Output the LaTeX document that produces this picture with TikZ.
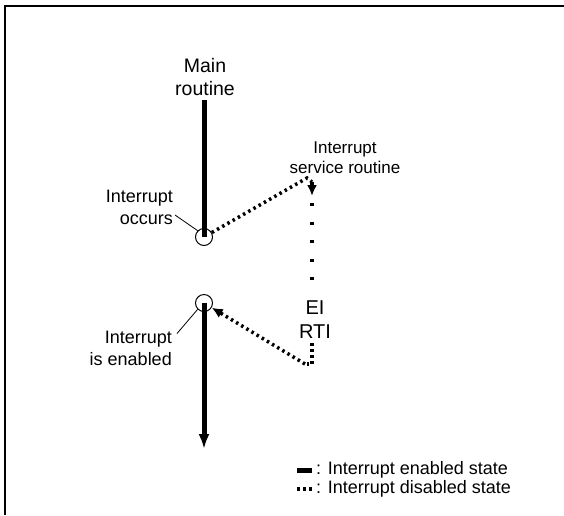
\documentclass[tikz,border=0pt]{standalone}
\usepackage{fontspec}
\setmainfont{Liberation Sans}
\usetikzlibrary{arrows.meta}
\tikzset{>=latex}

\begin{document}
\begin{tikzpicture}[x=1pt, y=-1pt,
    lbl/.style={inner sep=1pt, font=\fontsize{18}{22}\selectfont},
    enab/.style={line width=5pt},
    disab/.style={line width=3.5pt, dash pattern=on 2.5pt off 3.5pt},
    sparse/.style={line width=3.5pt, dash pattern=on 3pt off 15.5pt},
    circ/.style={circle, draw, line width=1pt, minimum size=17pt, inner sep=0pt},
    leader/.style={line width=0.8pt}]
    \useasboundingbox (0, 0) rectangle (564, 515);
    % frame
    \draw[line width=2.5pt] (5, 515) -- (5, 6) -- (564, 6);
    % main routine
    \node[lbl, font=\fontsize{19.5}{23}\selectfont, align=center] (main) at (205, 77) {Main\\routine};
    \node[circ] (occ) at (204, 237) {};
    \node[circ] (ena) at (204, 303) {};
    \coordinate (mtop) at (204, 100);
    \coordinate (mend) at (204, 449);
    \draw[enab] (mtop) -- (occ.center);
    \draw[enab, -{Latex[length=15pt, width=11pt]}] (ena.center) -- (mend);
    % service routine
    \node[lbl, font=\fontsize{17}{20}\selectfont, align=center] (isr) at (345, 158) {Interrupt\\service routine};
    \coordinate (isra) at (307, 178);
    \coordinate (isrb) at (312, 196);
    \coordinate (isrc) at (312, 203);
    \coordinate (isrd) at (312, 290);
    \coordinate (isre) at (312, 343);
    \coordinate (isrf) at (312, 364);
    \draw[disab] (occ) -- (isra) -- (312, 182);
    \draw[disab, -{Latex[length=11pt, width=10pt]}] (312, 182) -- (isrb);
    \draw[sparse] (isrc) -- (isrd);
    \node[lbl, font=\fontsize{20}{24}\selectfont, align=center] (ei) at (315, 320) {EI\\RTI};
    \draw[disab] (isre) -- (isrf) -- (305, 364);
    \draw[disab, -{Latex[length=11pt, width=10pt]}] (305, 364) -- (ena);
    % labels
    \node[lbl, align=right, anchor=east] (occlbl) at (174, 207) {Interrupt\\occurs};
    \draw[leader] ([xshift=1pt, yshift=-8pt]occlbl.east) -- (occ.north west);
    \node[lbl, align=right, anchor=east] (enlbl) at (173, 348) {Interrupt\\is enabled};
    \draw[leader] ([xshift=4pt, yshift=-4pt]enlbl.north east) -- (ena.south west);
    % legend
    \coordinate (lga) at (297, 470);
    \coordinate (lgb) at (312, 470);
    \coordinate (lgc) at (297, 489);
    \coordinate (lgd) at (312, 489);
    \draw[enab] (lga) -- (lgb);
    \draw[disab] (lgc) -- (lgd);
    \node[lbl, anchor=west] (lgen) at (lgb) {\,: Interrupt enabled state};
    \node[lbl, anchor=west] (lgdis) at (lgd) {\,: Interrupt disabled state};
\end{tikzpicture}
\end{document}
